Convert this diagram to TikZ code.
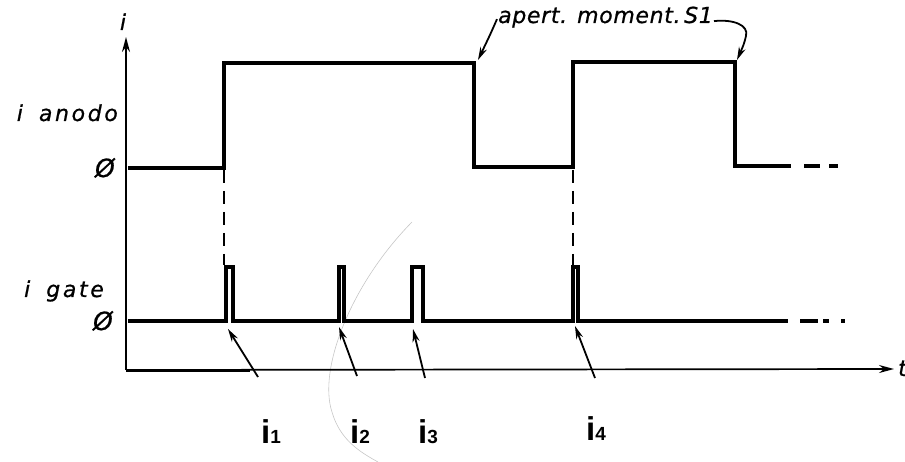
\documentclass[tikz,border=0pt]{standalone}
\usepackage{fontspec}
\setmainfont{Liberation Sans}
\newfontfamily\lblfont[FakeBold=0.8]{DejaVu Sans}
\usetikzlibrary{arrows.meta}
\begin{document}
\begin{tikzpicture}[x=1pt,y=-1pt,
  sig/.style={line width=3.8pt, line join=miter},
  pulse/.style={line width=3.4pt, line join=miter},
  axis/.style={line width=1.7pt},
  guide/.style={line width=1.4pt, dash pattern=on 13pt off 8pt},
  pointer/.style={line width=1.8pt, -{Stealth[length=13pt,width=7pt]}},
  lbl/.style={inner sep=0pt, font=\lblfont\fontsize{22}{22}\selectfont\itshape},
  wide/.style={font=\lblfont\fontsize{22}{22}\selectfont\itshape\addfontfeature{LetterSpace=12}},
  topwide/.style={font=\lblfont\fontsize{22}{22}\selectfont\itshape\addfontfeature{LetterSpace=3}},
  zero/.style={inner sep=0pt, font=\lblfont\fontsize{25}{25}\selectfont\itshape},
  ilbl/.style={inner sep=0pt, font=\fontsize{33}{33}\selectfont\bfseries},
  pencil/.style={draw=gray!45, line width=0.6pt}
  ]
\useasboundingbox (0,0) rectangle (905,462);

% faint pencil arc
\draw[pencil] (412,222) .. controls (350,285) and (318,370) .. (332,412) .. controls (340,440) and (360,452) .. (378,462);

% axes
\coordinate (origin) at (126,370);
\coordinate (ytip) at (126,37);
\coordinate (ttip) at (894,369);
\draw[axis, -{Stealth[length=15pt,width=8pt]}] (origin) -- (ytip);
\draw[axis, -{Stealth[length=15pt,width=8pt]}] (origin) -- (ttip);
\coordinate (thick) at (250,370);
\draw[line width=3pt] (origin) -- (thick);
\node[lbl, anchor=base] (ylab) at (123,30) {i};
\node[lbl, anchor=base west] (tlab) at (898,376) {t};

% anode current
\draw[sig] (128,168) -- (224,168) -- (224,63) -- (474,63) -- (474,167) -- (573,167) -- (573,62) -- (735,62) -- (735,166) -- (791,166);
\draw[sig] (804,166) -- (820,166);
\draw[sig] (829,166) -- (838,166);

% gate current
\draw[pulse] (128,321) -- (226,321) -- (226,267) -- (233,267) -- (233,321)
  -- (339,321) -- (339,267) -- (344,267) -- (344,321)
  -- (412,321) -- (412,267) -- (423,267) -- (423,321)
  -- (573,321) -- (573,267) -- (578,267) -- (578,321) -- (788,321);
\draw[pulse] (800,321) -- (818,321);
\draw[pulse] (823,321) -- (829,321);
\draw[pulse] (841,321) -- (845,321);

% guides
\draw[guide] (224,170) -- (224,265);
\draw[guide] (573,170) -- (573,265);

% left labels
\node[lbl, wide, anchor=base east] (anodo) at (118,121) {i\hspace{16pt}anodo};
\node[zero, anchor=base east] (z1) at (115,177) {\O};
\node[lbl, wide, anchor=base east] (gate) at (104,297) {i\hspace{16pt}gate};
\node[zero, anchor=base east] (z2) at (113,330) {\O};

% top label
\node[lbl, topwide, anchor=base west] (apert) at (498,23) {apert.\hspace{10pt}moment.\,S1};
\coordinate (a1) at (478,60);
\coordinate (a2) at (737,60);
\coordinate (c1) at (746,36);
\draw[pointer] (apert.west) ++(-1,2) .. controls (490,35) .. (a1);
\draw[pointer] (apert.east) ++(1,4) .. controls (733,19) and (749,25) .. (c1) .. controls (744,44) .. (a2);

% gate pulse labels
\node[ilbl, anchor=base west] (i1) at (261,443) {i\fontsize{19}{19}\selectfont 1};
\node[ilbl, anchor=base west] (i2) at (350,443) {i\fontsize{19}{19}\selectfont 2};
\node[ilbl, anchor=base west] (i3) at (418,443) {i\fontsize{19}{19}\selectfont 3};
\node[ilbl, anchor=base west] (i4) at (586,440) {i\fontsize{19}{19}\selectfont 4};

\coordinate (p1) at (228,329);
\coordinate (p2) at (339,327);
\coordinate (p3) at (413,329);
\coordinate (p4) at (575,326);
\coordinate (s1) at (258,377);
\coordinate (s2) at (357,376);
\coordinate (s3) at (425,378);
\coordinate (s4) at (595,378);
\draw[pointer] (s1) -- (p1);
\draw[pointer] (s2) -- (p2);
\draw[pointer] (s3) -- (p3);
\draw[pointer] (s4) -- (p4);
\end{tikzpicture}
\end{document}
